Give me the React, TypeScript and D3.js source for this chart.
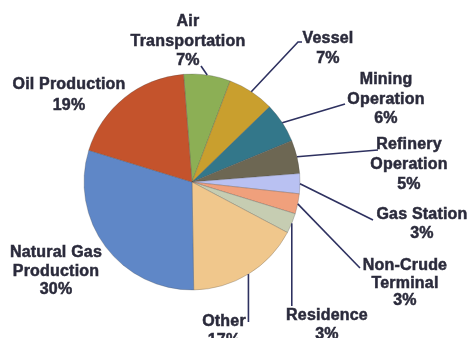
import React from "react";
import * as d3 from "d3";

const categories = [
  "Air Transportation",
  "Vessel",
  "Mining Operation",
  "Refinery Operation",
  "Gas Station",
  "Non-Crude Terminal",
  "Residence",
  "Other",
  "Natural Gas Production",
  "Oil Production",
];
const values = [7, 7, 6, 5, 3, 3, 3, 17, 30, 19];
const labelLines = [
  ["Air", "Transportation"],
  ["Vessel"],
  ["Mining", "Operation"],
  ["Refinery", "Operation"],
  ["Gas Station"],
  ["Non-Crude", "Terminal"],
  ["Residence"],
  ["Other"],
  ["Natural Gas", "Production"],
  ["Oil Production"],
];
const colors = [
  "#8caf55",
  "#c99f2e",
  "#33778a",
  "#6d6753",
  "#b9c1f2",
  "#f0a07c",
  "#c6cdb2",
  "#f0c78c",
  "#5f87c7",
  "#c4532c",
];

// layout: label centre x, first baseline y, line spacing, leader end (x,y) or null
const labelLayout = [
  { x: 188, y: 26, dy: 19.5, end: [201, 66] },
  { x: 328, y: 43, dy: 20, end: [298, 42], tail: 302 },
  { x: 386, y: 84, dy: 19.5, end: [345, 104] },
  { x: 409, y: 149, dy: 20, end: [378, 150] },
  { x: 422, y: 219, dy: 19, end: [373, 220] },
  { x: 405, y: 270, dy: 17.5, end: [360, 268] },
  { x: 327, y: 320, dy: 19, end: "v", endY: 306 },
  { x: 224, y: 326, dy: 19, end: "v", endY: 322 },
  { x: 56, y: 257, dy: 18.5, end: null },
  { x: 69, y: 89, dy: 21, end: null },
];

const W = 469;
const H = 338;
const cx = 192;
const cy = 182;
const R = 108;
const start = (-4.5 * Math.PI) / 180;

export default function App() {
  const data = categories.map((c, i) => ({ name: c, value: values[i], i }));
  const pie = d3
    .pie<any>()
    .sort(null)
    .value((d) => d.value)
    .startAngle(start)
    .endAngle(start + 2 * Math.PI);
  const arcs = pie(data);
  const arc = d3.arc<any>().innerRadius(0).outerRadius(R);

  const textColor = "#2c2c3c";
  const lineColor = "#2e3160";

  return (
    <svg
      width={W}
      height={H}
      style={{ position: "absolute", left: 0, top: 0, background: "#fff" }}
    >
      <defs>
        <filter id="soft" x="-10%" y="-10%" width="120%" height="120%">
          <feGaussianBlur stdDeviation="0.35" />
        </filter>
      </defs>
      <g transform={`translate(${cx},${cy})`}>
        {arcs.map((a, i) => (
          <path
            key={i}
            d={arc(a) as string}
            fill={colors[i]}
            stroke="#4a4a4a"
            strokeOpacity={0.35}
            strokeWidth={0.8}
          />
        ))}
      </g>
      {arcs.map((a, i) => {
        const L = labelLayout[i];
        if (!L.end) return null;
        const mid = (a.startAngle + a.endAngle) / 2;
        const sx = cx + R * Math.sin(mid);
        const sy = cy - R * Math.cos(mid);
        let pts: number[][];
        if (L.end === "v") {
          pts = [
            [sx, sy],
            [sx, L.endY as number],
          ];
        } else {
          const e = L.end as number[];
          pts = [[sx, sy], e];
          if (L.tail) pts.push([L.tail, e[1]]);
        }
        return (
          <path
            key={"l" + i}
            d={d3.line()(pts as any) as string}
            fill="none"
            stroke={lineColor}
            strokeWidth={1.6}
          />
        );
      })}
      <g filter="url(#soft)">
        {arcs.map((a, i) => {
          const L = labelLayout[i];
          const lines = [...labelLines[i], `${values[i]}%`];
          return (
            <text
              key={"t" + i}
              textAnchor="middle"
              fontFamily="'Liberation Sans', Arial, sans-serif"
              fontWeight="bold"
              fontSize={16}
              letterSpacing={0.2}
              fill={textColor}
              stroke={textColor}
              strokeWidth={0.5}
            >
              {lines.map((s, k) => (
                <tspan key={k} x={L.x} y={L.y + k * L.dy}>
                  {s}
                </tspan>
              ))}
            </text>
          );
        })}
      </g>
    </svg>
  );
}
